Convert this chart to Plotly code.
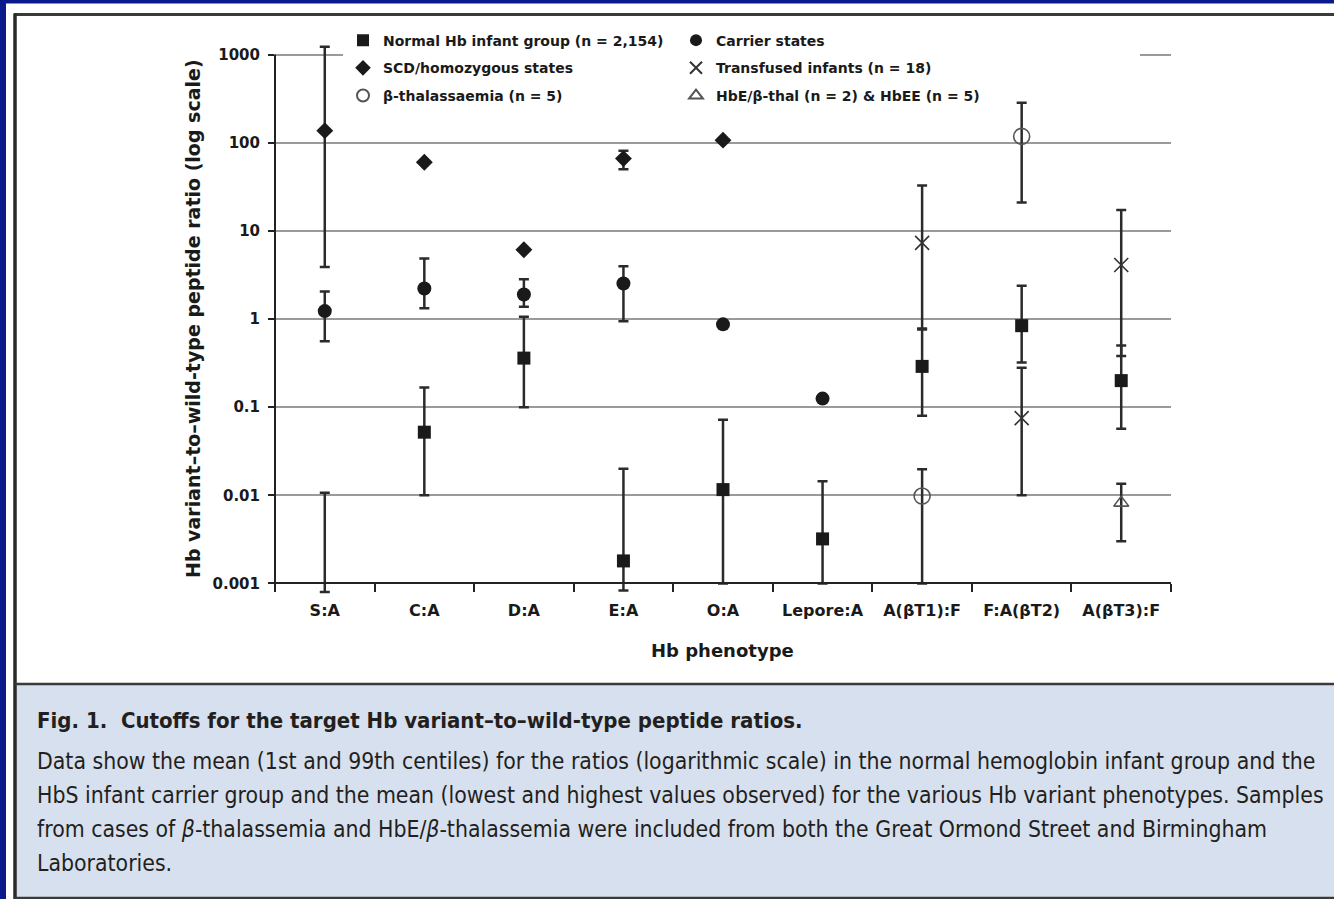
import plotly.graph_objects as go

# ---------------- data ----------------
categories = ["S:A", "C:A", "D:A", "E:A", "O:A", "Lepore:A", "A(βT1):F", "F:A(βT2)", "A(βT3):F"]
y_tickvals = [0.001, 0.01, 0.1, 1, 10, 100, 1000]
y_ticktext = ["0.001", "0.01", "0.1", "1", "10", "100", "1000"]

# Normal Hb infant group (mean, 1st & 99th centiles)
normal_cats = ["C:A", "D:A", "E:A", "O:A", "Lepore:A", "A(βT1):F", "F:A(βT2)", "A(βT3):F"]
normal_mean = [0.052, 0.36, 0.0018, 0.0116, 0.0032, 0.29, 0.84, 0.20]
normal_low = [0.010, 0.10, 0.00083, 0.001, 0.001, 0.08, 0.32, 0.057]
normal_high = [0.167, 1.06, 0.020, 0.072, 0.0144, 0.78, 2.38, 0.50]
# S:A normal group: mean below the axis range, only the upper centile visible
normal_sa_cats = ["S:A"]
normal_sa_mean = [0.0008]
normal_sa_high = [0.0107]

# Carrier states
carrier_cats = ["S:A", "C:A", "D:A", "E:A", "O:A", "Lepore:A"]
carrier_mean = [1.23, 2.22, 1.90, 2.53, 0.87, 0.125]
carrier_low = [0.56, 1.32, 1.38, 0.94, 0.87, 0.125]
carrier_high = [2.05, 4.87, 2.83, 3.98, 0.87, 0.125]

# SCD / homozygous states
scd_cats = ["S:A", "C:A", "D:A", "E:A", "O:A"]
scd_mean = [137, 60, 6.1, 66, 107]
scd_low = [3.9, 60, 6.1, 50, 107]
scd_high = [1230, 60, 6.1, 81, 107]

# Transfused infants (n = 18)
trans_cats = ["A(βT1):F", "F:A(βT2)", "A(βT3):F"]
trans_mean = [7.3, 0.075, 4.1]
trans_low = [0.76, 0.010, 0.38]
trans_high = [32.7, 0.28, 17.2]

# beta-thalassaemia (n = 5)
bthal_cats = ["A(βT1):F", "F:A(βT2)"]
bthal_mean = [0.0098, 118]
bthal_low = [0.001, 21]
bthal_high = [0.0197, 285]

# HbE/beta-thal (n = 2) & HbEE (n = 5)
hbe_cats = ["A(βT3):F"]
hbe_mean = [0.0082]
hbe_low = [0.0030]
hbe_high = [0.0135]

# ---------------- geometry ----------------
W, H = 1334, 899
L, R = 275, 1171
Y_TOP_PX, Y_BOT_PX = 55, 583          # pixel rows of 1000 and 0.001
LOG_LO, LOG_HI = -3, 3
PAD_DEC = 0.12                        # extra decades so error bars can overshoot the frame
PX_PER_DEC = (Y_BOT_PX - Y_TOP_PX) / (LOG_HI - LOG_LO)
T = Y_TOP_PX - PAD_DEC * PX_PER_DEC
B = Y_BOT_PX + PAD_DEC * PX_PER_DEC
PW, PH = R - L, B - T
Y_RANGE = [LOG_LO - PAD_DEC, LOG_HI + PAD_DEC]
AXIS_POS = PAD_DEC / (Y_RANGE[1] - Y_RANGE[0])


def px(xp):
    return (xp - L) / PW


def py(yp):
    return (B - yp) / PH


def err(mean, low, high):
    return dict(type="data", symmetric=False,
                array=[h - m for m, h in zip(mean, high)],
                arrayminus=[m - l for m, l in zip(mean, low)],
                color="#2b2b2b", thickness=2.5, width=5)


FAM = "DejaVu Sans, Liberation Sans, Arial"
TICKFONT_Y = dict(family=FAM, size=15, color="#1a1a1a", weight="bold")
TICKFONT_X = dict(family=FAM, size=16, color="#1a1a1a", weight="bold")
LEGFONT = dict(family=FAM, size=14, color="#1a1a1a", weight="bold")

fig = go.Figure()

fig.add_trace(go.Scatter(
    x=normal_cats, y=normal_mean, mode="markers", name="Normal Hb infant group (n = 2,154)",
    marker=dict(symbol="square", size=13, color="#1a1a1a"),
    error_y=err(normal_mean, normal_low, normal_high),
    legend="legend", legendgroup="n", legendrank=1))
fig.add_trace(go.Scatter(
    x=normal_sa_cats, y=normal_sa_mean, mode="markers", showlegend=False,
    marker=dict(symbol="square", size=13, color="#1a1a1a", opacity=0),
    error_y=dict(type="data", symmetric=False,
                 array=[h - m for m, h in zip(normal_sa_mean, normal_sa_high)],
                 arrayminus=[0], color="#2b2b2b", thickness=2.5, width=5)))
fig.add_trace(go.Scatter(
    x=scd_cats, y=scd_mean, mode="markers", name="SCD/homozygous states",
    marker=dict(symbol="diamond", size=13, color="#1a1a1a"),
    error_y=err(scd_mean, scd_low, scd_high),
    legend="legend", legendgroup="s", legendrank=2))
fig.add_trace(go.Scatter(
    x=bthal_cats, y=bthal_mean, mode="markers", name="β-thalassaemia (n = 5)",
    marker=dict(symbol="circle-open", size=16, color="#555555", line=dict(width=1.6)),
    error_y=err(bthal_mean, bthal_low, bthal_high),
    legend="legend", legendgroup="b", legendrank=3))
fig.add_trace(go.Scatter(
    x=carrier_cats, y=carrier_mean, mode="markers", name="Carrier states",
    marker=dict(symbol="circle", size=14, color="#1a1a1a"),
    error_y=err(carrier_mean, carrier_low, carrier_high),
    legend="legend2", legendgroup="c", legendrank=1))
fig.add_trace(go.Scatter(
    x=trans_cats, y=trans_mean, mode="markers", name="Transfused infants (n = 18)",
    marker=dict(symbol="x-thin", size=14, color="#333333", line=dict(width=1.6, color="#333333")),
    error_y=err(trans_mean, trans_low, trans_high),
    legend="legend2", legendgroup="t", legendrank=2))
fig.add_trace(go.Scatter(
    x=hbe_cats, y=hbe_mean, mode="markers", name="HbE/β-thal (n = 2) & HbEE (n = 5)",
    marker=dict(symbol="triangle-up-open", size=13, color="#555555", line=dict(width=1.6)),
    error_y=err(hbe_mean, hbe_low, hbe_high),
    legend="legend2", legendgroup="h", legendrank=3))

# ---------------- frame / decoration ----------------
shapes = [
    # white figure panel
    dict(type="rect", xref="paper", yref="paper", x0=px(6), x1=px(W + 5), y0=py(4), y1=py(H + 5),
         fillcolor="white", line=dict(width=0), layer="below"),
    # caption panel
    dict(type="rect", xref="paper", yref="paper", x0=px(16), x1=px(W + 5), y0=py(684), y1=py(896),
         fillcolor="#d7e0ee", line=dict(width=0), layer="below"),
    # frame lines
    dict(type="line", xref="paper", yref="paper", x0=px(14), x1=px(W + 5), y0=py(15), y1=py(15),
         line=dict(color="#3a3a3a", width=3), layer="below"),
    dict(type="line", xref="paper", yref="paper", x0=px(15), x1=px(15), y0=py(14), y1=py(H + 5),
         line=dict(color="#2a2a2a", width=3.5), layer="below"),
    dict(type="line", xref="paper", yref="paper", x0=px(15), x1=px(W + 5), y0=py(683.5), y1=py(683.5),
         line=dict(color="#3a3a3a", width=2.5), layer="below"),
    dict(type="line", xref="paper", yref="paper", x0=px(15), x1=px(W + 5), y0=py(897), y1=py(897),
         line=dict(color="#3a3a3a", width=2.5), layer="below"),
    # white band behind the legend hiding the top grid line
    dict(type="rect", xref="paper", yref="paper", x0=px(352), x1=px(1140),
         y0=1 - AXIS_POS - 0.008, y1=1 - AXIS_POS + 0.008,
         fillcolor="white", line=dict(width=0), layer="above"),
    # y axis line (from 0.001 to 1000)
    dict(type="line", xref="paper", yref="paper", x0=0, x1=0, y0=AXIS_POS - 0.002, y1=1 - AXIS_POS,
         line=dict(color="#222222", width=2), layer="above"),
]

CAPFONT = "Liberation Sans Narrow, DejaVu Sans Condensed, Roboto Condensed, Liberation Sans"
caption_title = "<b>Fig. 1.  Cutoffs for the target Hb variant–to–wild-type peptide ratios.</b>"
caption_lines = [
    "Data show the mean (1st and 99th centiles) for the ratios (logarithmic scale) in the normal hemoglobin infant group and the",
    "HbS infant carrier group and the mean (lowest and highest values observed) for the various Hb variant phenotypes. Samples",
    "from cases of <i>β</i>-thalassemia and HbE/<i>β</i>-thalassemia were included from both the Great Ormond Street and Birmingham",
    "Laboratories.",
]
caption_y = [760, 794, 828, 862]

annotations = [
    dict(text="Hb variant–to–wild-type peptide ratio (log scale)", textangle=-90,
         xref="paper", yref="paper", x=px(193), y=py(319), xanchor="center", yanchor="middle",
         showarrow=False, font=dict(family=FAM, size=19, color="#1a1a1a", weight="bold")),
    dict(text="Hb phenotype", xref="paper", yref="paper", x=px(722), y=py(650),
         xanchor="center", yanchor="middle", showarrow=False,
         font=dict(family=FAM, size=18, color="#1a1a1a", weight="bold")),
    dict(text=caption_title, xref="paper", yref="paper", x=px(35), y=py(720), xanchor="left",
         yanchor="middle", showarrow=False, font=dict(family=CAPFONT, size=22, color="#231f20")),
]
for t, yy in zip(caption_lines, caption_y):
    annotations.append(dict(text=t, xref="paper", yref="paper", x=px(35), y=py(yy), xanchor="left",
                            yanchor="middle", showarrow=False,
                            font=dict(family=CAPFONT, size=22.8, color="#231f20")))

fig.update_layout(
    width=W, height=H, autosize=False,
    margin=dict(l=L, r=W - R, t=T, b=H - B, pad=0),
    paper_bgcolor="#0b1a8a", plot_bgcolor="white",
    shapes=shapes, annotations=annotations,
    legend=dict(x=px(343), y=py(25), xanchor="left", yanchor="top", bgcolor="white",
                font=LEGFONT, tracegroupgap=6.5, borderwidth=0, itemsizing="constant"),
    legend2=dict(x=px(676), y=py(25), xanchor="left", yanchor="top", bgcolor="white",
                 font=LEGFONT, tracegroupgap=6.5, borderwidth=0, itemsizing="constant"),
)
fig.update_xaxes(type="category", categoryorder="array", categoryarray=categories,
                 range=[-0.5, len(categories) - 0.5], anchor="free", position=AXIS_POS,
                 showline=True, linecolor="#222222", linewidth=2,
                 ticks="outside", ticklen=8, tickwidth=2, tickcolor="#222222", tickson="boundaries",
                 showgrid=False, tickfont=TICKFONT_X, ticklabelstandoff=12, zeroline=False)
fig.update_yaxes(type="log", range=Y_RANGE, tickvals=y_tickvals, ticktext=y_ticktext,
                 showline=False, ticks="outside", ticklen=6,
                 tickwidth=2, tickcolor="#222222", showgrid=True, gridcolor="#9a9a9a", gridwidth=2,
                 tickfont=TICKFONT_Y, ticklabelstandoff=5, zeroline=False)

fig.write_html("out.html", post_script="document.body.style.margin='0px';",
               config={"displayModeBar": False})
